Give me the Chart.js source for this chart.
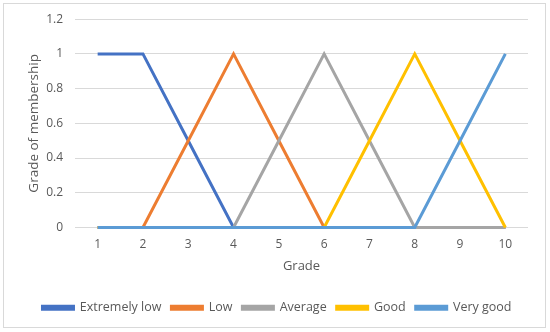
<!DOCTYPE html>
<html>
<head>
<meta charset="utf-8">
<script src="https://cdn.jsdelivr.net/npm/chart.js@4"></script>
<style>
  body { margin: 0; background: #fff; }
  #wrap { position: relative; width: 550px; height: 332px; }
  #frame { position: absolute; left: 3px; top: 3px; width: 541px; height: 323px; border: 1px solid #d9d9d9; pointer-events: none; }
  canvas { position: absolute; left: 0; top: 0; }
</style>
</head>
<body>
<div id="wrap">
  <canvas id="chart" width="550" height="332"></canvas>
  <div id="frame"></div>
</div>
<script>
const grades = ['1', '2', '3', '4', '5', '6', '7', '8', '9', '10'];
const extremelyLow = [1, 1, 0.5, 0, 0, 0, 0, 0, 0, 0];
const low = [0, 0, 0.5, 1, 0.5, 0, 0, 0, 0, 0];
const average = [0, 0, 0, 0, 0.5, 1, 0.5, 0, 0, 0];
const good = [0, 0, 0, 0, 0, 0, 0.5, 1, 0.5, 0];
const veryGood = [0, 0, 0, 0, 0, 0, 0, 0, 0.5, 1];

const textColor = '#595959';
const font = "'Open Sans', 'Liberation Sans', sans-serif";

// later series sit on top, like in Excel
function line(label, data, color, order) {
    return {
        label: label,
        data: data,
        borderColor: color,
        backgroundColor: color,
        borderWidth: 3,
        pointRadius: 0,
        tension: 0,
        fill: false,
        clip: 6,
        order: order
    };
}

const ctx = document.getElementById('chart').getContext('2d');
new Chart(ctx, {
    type: 'line',
    data: {
        labels: grades,
        datasets: [
            line('Extremely low', extremelyLow, '#4472C4', 4),
            line('Low', low, '#ED7D31', 3),
            line('Average', average, '#A5A5A5', 2),
            line('Good', good, '#FFC000', 1),
            line('Very good', veryGood, '#5B9BD5', 0)
        ]
    },
    options: {
        responsive: false,
        animation: false,
        layout: { padding: { left: 26, right: 22, top: 14, bottom: 8 } },
        scales: {
            x: {
                offset: true,
                grid: { display: false },
                border: { display: false },
                ticks: { color: textColor, font: { family: font, size: 12 }, padding: 2 },
                title: { display: true, text: 'Grade', color: textColor, font: { family: font, size: 13 }, padding: { top: 5, bottom: 17 } }
            },
            y: {
                min: 0,
                max: 1.2,
                afterFit: (scale) => { scale.width = 49; },
                grid: { color: '#d9d9d9', lineWidth: 1, drawTicks: false },
                border: { display: false },
                ticks: { stepSize: 0.2, color: textColor, font: { family: font, size: 12 }, padding: 12,
                    callback: (v) => Math.round(v * 10) / 10 },
                title: { display: true, text: 'Grade of membership', color: textColor, font: { family: font, size: 13.5 }, padding: 0 }
            }
        },
        plugins: {
            tooltip: { enabled: false },
            legend: {
                position: 'bottom',
                labels: {
                    boxWidth: 31,
                    boxHeight: 3,
                    padding: 10,
                    color: textColor,
                    font: { family: font, size: 12.5 },
                    sort: (a, b) => a.datasetIndex - b.datasetIndex
                }
            }
        }
    }
});
</script>
</body>
</html>
